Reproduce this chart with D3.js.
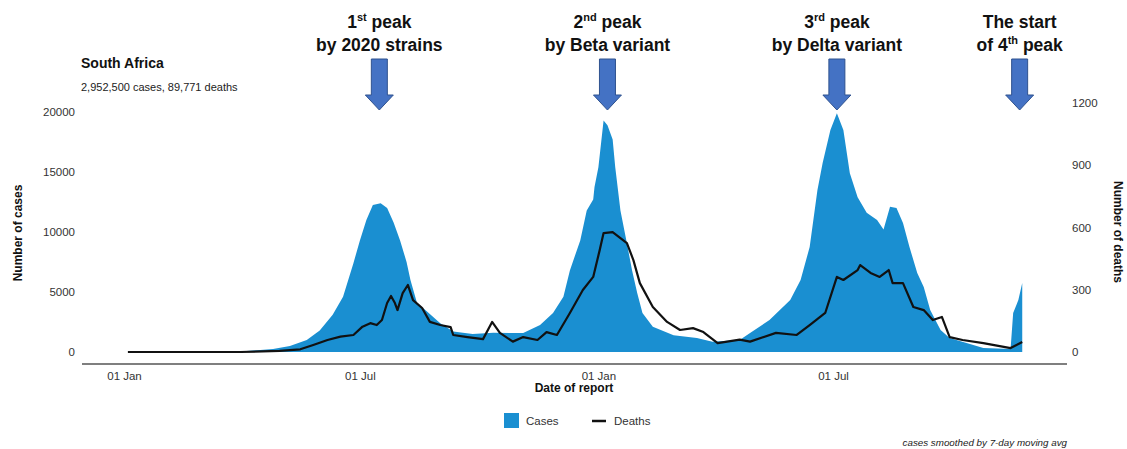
<!DOCTYPE html>
<html>
<head>
<meta charset="utf-8">
<script src="https://cdn.jsdelivr.net/npm/d3@7"></script>
<style>
  body { margin: 0; background: #fff; }
  svg { display: block; font-family: "Liberation Sans", Arial, sans-serif; }
</style>
</head>
<body>
<svg id="chart"></svg>
<script>
// values (cases smoothed, deaths daily)
const caseDates = ["2020-01-04","2020-02-21","2020-03-31","2020-04-25","2020-05-08","2020-05-21","2020-05-31","2020-06-10","2020-06-18","2020-06-26",
  "2020-07-01","2020-07-06","2020-07-11","2020-07-17","2020-07-22","2020-07-27","2020-08-01","2020-08-06","2020-08-09","2020-08-14",
  "2020-08-22","2020-09-01","2020-09-11","2020-09-26","2020-10-12","2020-11-04","2020-11-17","2020-11-27","2020-12-05","2020-12-10",
  "2020-12-18","2020-12-23","2020-12-28","2020-12-29","2021-01-01","2021-01-05","2021-01-08","2021-01-12","2021-01-14","2021-01-18",
  "2021-01-22","2021-01-27","2021-01-31","2021-02-04","2021-02-12","2021-02-28","2021-03-18","2021-03-30","2021-04-20","2021-04-28",
  "2021-05-13","2021-05-29","2021-06-06","2021-06-13","2021-06-19","2021-06-23","2021-06-29","2021-07-04","2021-07-09","2021-07-14",
  "2021-07-20","2021-07-27","2021-08-04","2021-08-09","2021-08-14","2021-08-19","2021-08-24","2021-08-29","2021-09-04","2021-09-09",
  "2021-09-14","2021-09-22","2021-09-29","2021-10-12","2021-10-25","2021-11-15","2021-11-17","2021-11-21","2021-11-24"];
const caseValues = [0,0,50,250,500,1000,1800,3100,4600,7400,
  9300,11000,12250,12400,12000,10800,9300,7500,6000,4100,
  3350,2400,1700,1500,1600,1580,2250,3250,4600,6800,
  9300,11800,12700,13750,15400,19300,18900,17700,15400,11800,
  9600,6800,4900,3250,2100,1400,1160,850,1000,1580,
  2670,4330,6000,8750,13500,15750,18500,19900,18500,14900,
  12900,11600,11000,10200,12100,12000,10750,8750,6580,5420,
  3500,1830,1170,750,330,250,3250,4330,5750];

const deathDates = ["2020-01-04","2020-03-31","2020-04-30","2020-05-16","2020-05-26","2020-06-06","2020-06-16","2020-06-26","2020-07-03","2020-07-09",
  "2020-07-14","2020-07-18","2020-07-22","2020-07-25","2020-07-28","2020-07-30","2020-08-03","2020-08-07","2020-08-11","2020-08-18",
  "2020-08-24","2020-09-01","2020-09-09","2020-09-11","2020-09-22","2020-10-04","2020-10-11","2020-10-17","2020-10-27","2020-11-04",
  "2020-11-15","2020-11-22","2020-11-30","2020-12-10","2020-12-20","2020-12-28","2021-01-02","2021-01-05","2021-01-12","2021-01-18",
  "2021-01-23","2021-01-28","2021-02-02","2021-02-12","2021-02-23","2021-03-05","2021-03-15","2021-03-23","2021-04-03","2021-04-20",
  "2021-04-28","2021-05-18","2021-06-03","2021-06-13","2021-06-25","2021-07-04","2021-07-09","2021-07-20","2021-07-22","2021-07-30",
  "2021-08-06","2021-08-13","2021-08-16","2021-08-24","2021-09-01","2021-09-09","2021-09-16","2021-09-23","2021-09-29","2021-10-09",
  "2021-10-25","2021-11-15","2021-11-24"];
const deathValues = [0,0,5,13,34,58,74,82,122,139,
  130,154,236,270,236,202,284,323,250,212,
  145,130,120,82,72,62,145,92,50,72,
  58,96,82,188,299,362,491,573,578,549,
  525,443,332,217,145,106,115,96,43,60,
  50,92,82,130,188,362,347,395,419,381,
  362,395,332,332,217,202,154,169,72,58,
  43,19,48];

const xTickDates = ["2020-01-01","2020-07-01","2021-01-01","2021-07-01"];
const caseTicks = [0, 5000, 10000, 15000, 20000];
const deathTicks = [0, 300, 600, 900, 1200];

const peakLines = [
  [["1", "st", " peak"], ["by 2020 strains"]],
  [["2", "nd", " peak"], ["by Beta variant"]],
  [["3", "rd", " peak"], ["by Delta variant"]],
  [["The start"], ["of 4", "th", " peak"]]
];
const peakDates = ["2020-07-16", "2021-01-08", "2021-07-04", "2021-11-22"];

const W = 1127, H = 449;
const parse = d3.utcParse("%Y-%m-%d");

const cases = caseDates.map((d, i) => ({ date: parse(d), v: caseValues[i] }));
const deaths = deathDates.map((d, i) => ({ date: parse(d), v: deathValues[i] }));

const svg = d3.select("#chart").attr("width", W).attr("height", H);

const x = d3.scaleUtc()
    .domain([parse("2020-01-01"), parse("2021-07-01")])
    .range([124, 833]);
const yCases = d3.scaleLinear().domain([0, 20000]).range([352, 112]);
const yDeaths = d3.scaleLinear().domain([0, 1200]).range([352, 103]);

// cases area
const area = d3.area()
    .x(d => x(d.date))
    .y0(yCases(0))
    .y1(d => yCases(d.v));
svg.append("path")
    .datum(cases)
    .attr("d", area)
    .attr("fill", "#1a8fd1");

// deaths line
const line = d3.line()
    .x(d => x(d.date))
    .y(d => yDeaths(d.v));
svg.append("path")
    .datum(deaths)
    .attr("d", line)
    .attr("fill", "none")
    .attr("stroke", "#111")
    .attr("stroke-width", 2.2)
    .attr("stroke-linejoin", "round");

// x axis
const xAxis = d3.axisBottom(x)
    .tickValues(xTickDates.map(parse))
    .tickFormat(d3.utcFormat("%d %b"))
    .tickSize(0)
    .tickPadding(8);
const gx = svg.append("g")
    .attr("transform", "translate(0,364)")
    .call(xAxis);
gx.select(".domain").remove();
gx.selectAll("text").attr("font-size", 11.5).attr("fill", "#333")
    .style("font-family", "Liberation Sans, Arial, sans-serif");
gx.append("line")
    .attr("x1", 82).attr("x2", 1067)
    .attr("stroke", "#555").attr("stroke-width", 1.5);

// left axis
const gl = svg.append("g")
    .attr("transform", "translate(75,0)")
    .call(d3.axisLeft(yCases).tickValues(caseTicks).tickFormat(d3.format("d"))
        .tickSize(0).tickPadding(0));
gl.select(".domain").remove();
gl.selectAll("text").attr("font-size", 11.5).attr("fill", "#333")
    .style("font-family", "Liberation Sans, Arial, sans-serif");

// right axis
const gr = svg.append("g")
    .attr("transform", "translate(1072,0)")
    .call(d3.axisRight(yDeaths).tickValues(deathTicks).tickFormat(d3.format("d"))
        .tickSize(0).tickPadding(0));
gr.select(".domain").remove();
gr.selectAll("text").attr("font-size", 11.5).attr("fill", "#333")
    .style("font-family", "Liberation Sans, Arial, sans-serif");

// axis titles
svg.append("text")
    .attr("transform", "translate(22,233) rotate(-90)")
    .attr("text-anchor", "middle")
    .attr("font-size", 12).attr("font-weight", "bold").attr("fill", "#111")
    .text("Number of cases");
svg.append("text")
    .attr("transform", "translate(1114,232) rotate(90)")
    .attr("text-anchor", "middle")
    .attr("font-size", 12).attr("font-weight", "bold").attr("fill", "#111")
    .text("Number of deaths");
svg.append("text")
    .attr("x", 574).attr("y", 392)
    .attr("text-anchor", "middle")
    .attr("font-size", 12).attr("font-weight", "bold").attr("fill", "#111")
    .text("Date of report");

// title
svg.append("text")
    .attr("x", 81).attr("y", 68)
    .attr("font-size", 14).attr("font-weight", "bold").attr("fill", "#111")
    .text("South Africa");
svg.append("text")
    .attr("x", 81).attr("y", 91)
    .attr("font-size", 11).attr("fill", "#222")
    .text("2,952,500 cases, 89,771 deaths");

// legend
const lg = svg.append("g");
lg.append("rect")
    .attr("x", 504).attr("y", 413).attr("width", 15).attr("height", 15)
    .attr("fill", "#1a8fd1");
lg.append("text")
    .attr("x", 526).attr("y", 425)
    .attr("font-size", 11.5).attr("fill", "#333")
    .text("Cases");
lg.append("line")
    .attr("x1", 592).attr("x2", 606).attr("y1", 421).attr("y2", 421)
    .attr("stroke", "#111").attr("stroke-width", 2.5);
lg.append("text")
    .attr("x", 614).attr("y", 425)
    .attr("font-size", 11.5).attr("fill", "#333")
    .text("Deaths");

svg.append("text")
    .attr("x", 1067).attr("y", 446)
    .attr("text-anchor", "end")
    .attr("font-size", 9.8).attr("font-style", "italic").attr("fill", "#222")
    .text("cases smoothed by 7-day moving avg");

// peak annotations + arrows
peakDates.forEach((ds, i) => {
    const cx = x(parse(ds));
    const g = svg.append("g");
    peakLines[i].forEach((parts, j) => {
        const t = g.append("text")
            .attr("x", cx).attr("y", 28 + j * 23)
            .attr("text-anchor", "middle")
            .attr("font-size", 17.5).attr("font-weight", "bold").attr("fill", "#111");
        parts.forEach(p => {
            const sup = /^(st|nd|rd|th)$/.test(p);
            t.append("tspan")
                .attr("font-size", sup ? 11 : null)
                .attr("dy", sup ? -7 : (p.startsWith(" ") ? 7 : null))
                .text(p);
        });
    });
    const path = d3.path();
    path.moveTo(cx - 8, 59);
    path.lineTo(cx + 8, 59);
    path.lineTo(cx + 8, 95);
    path.lineTo(cx + 14, 95);
    path.lineTo(cx, 110);
    path.lineTo(cx - 14, 95);
    path.lineTo(cx - 8, 95);
    path.closePath();
    g.append("path")
        .attr("d", path.toString())
        .attr("fill", "#4472c4")
        .attr("stroke", "#2f528f")
        .attr("stroke-width", 1);
});
</script>
</body>
</html>
